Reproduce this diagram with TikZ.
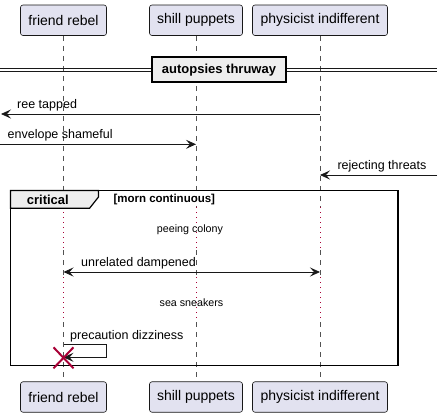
\documentclass[tikz,border=0pt]{standalone}
\usepackage{fontspec}
\setmainfont{Liberation Sans}
\usetikzlibrary{arrows.meta}
\definecolor{partfill}{HTML}{E2E2F0}
\definecolor{ink}{HTML}{181818}
\definecolor{delayred}{HTML}{A80036}
\definecolor{grpfill}{HTML}{EEEEEE}
\begin{document}
\begin{tikzpicture}[x=1pt,y=-1pt,
  participant/.style={draw=ink, fill=partfill, rounded corners=2.5pt, line width=0.6pt,
    minimum height=30.5pt, inner sep=0pt, font=\fontsize{14}{16}\selectfont},
  lifeline/.style={draw=ink!75, line width=0.6pt, dash pattern=on 5pt off 5pt},
  delayline/.style={draw=delayred, line width=0.9pt, dash pattern=on 1pt off 4pt},
  msg/.style={draw=ink, line width=0.8pt, -{Stealth[length=10pt,width=9pt,inset=4pt]}},
  bimsg/.style={draw=ink, line width=0.8pt, {Stealth[length=10pt,width=9pt,inset=4pt]}-{Stealth[length=10pt,width=9pt,inset=4pt]}},
  msglabel/.style={font=\fontsize{12.5}{14}\selectfont, inner sep=0pt, anchor=base west},
  delaylabel/.style={font=\fontsize{10.7}{12}\selectfont, inner sep=0pt},
  dividerbox/.style={draw=black, fill=grpfill, line width=1.5pt, minimum width=134pt,
    minimum height=25pt, inner sep=0pt, font=\bfseries\fontsize{13}{15}\selectfont},
  framebox/.style={draw=black, line width=1.5pt},
  tabbox/.style={draw=black, fill=grpfill, line width=1.2pt},
  destroy/.style={draw=delayred, line width=2pt}
]
\useasboundingbox (0,0) rectangle (443,418);

% participants
\node[participant, minimum width=86pt]  (frT) at (63.5,20.25) {friend rebel};
\node[participant, minimum width=93pt]  (spT) at (196,20.25)  {shill puppets};
\node[participant, minimum width=135pt] (piT) at (320,20.25)  {physicist indifferent};
\node[participant, minimum width=86pt]  (frB) at (63.5,397) {friend rebel};
\node[participant, minimum width=93pt]  (spB) at (196,397)  {shill puppets};
\node[participant, minimum width=135pt] (piB) at (320,397)  {physicist indifferent};

% delay boundaries
\coordinate (dA) at (0,207);
\coordinate (dB) at (0,250);
\coordinate (dC) at (0,277);
\coordinate (dD) at (0,322);

% lifelines
\foreach \p in {fr,sp,pi}{
  \draw[lifeline] (\p T.south) -- (\p T.south |- dA);
  \draw[delayline] (\p T.south |- dA) -- (\p T.south |- dB);
  \draw[lifeline] (\p T.south |- dB) -- (\p T.south |- dC);
  \draw[delayline] (\p T.south |- dC) -- (\p T.south |- dD);
  \draw[lifeline] (\p T.south |- dD) -- (\p B.north);
}

% divider
\coordinate (dl1) at (0,68.4);
\coordinate (dr1) at (437,68.4);
\coordinate (dl2) at (0,71.6);
\coordinate (dr2) at (437,71.6);
\draw[ink, line width=1pt] (dl1) -- (dr1);
\draw[ink, line width=1pt] (dl2) -- (dr2);
\node[dividerbox] (div) at (219,69.7) {autopsies thruway};

% messages outside the frame
\coordinate (m1L) at (1,114);
\draw[msg] (piT.south |- m1L) -- (m1L);
\node[msglabel] (l1) at (17,108.5) {ree tapped};

\coordinate (m2L) at (0,144.3);
\draw[msg] (m2L) -- (spT.south |- m2L);
\node[msglabel] (l2) at (7.5,138.5) {envelope shameful};

\coordinate (m3R) at (437,175);
\draw[msg] (m3R) -- (piT.south |- m3R);
\node[msglabel] (l3) at (337.3,169.5) {rejecting threats};

% critical frame
\draw[framebox] (10.5,190.5) rectangle (398,365.7);
\draw[tabbox] (10.5,190.5) -- (98.5,190.5) -- (98.5,197) -- (89.5,208.3) -- (10.5,208.3) -- cycle;
\node[font=\bfseries\fontsize{13}{15}\selectfont, inner sep=0pt, anchor=base west] (crit) at (26.7,204.3) {critical};
\node[font=\bfseries\fontsize{11.5}{13}\selectfont, inner sep=0pt, anchor=base west] (cond) at (113.3,202.8) {[morn continuous]};

% delays
\node[delaylabel] (dl1t) at (190,230) {peeing colony};
\node[delaylabel] (dl2t) at (191.5,302.3) {sea sneakers};

% bidirectional message
\coordinate (m4) at (0,272);
\draw[bimsg] (frT.south |- m4) -- (piT.south |- m4);
\node[msglabel] (l4) at (81,266.5) {unrelated dampened};

% self message
\coordinate (s1) at (0,344);
\coordinate (s2) at (106,344);
\coordinate (s3) at (106,357.3);
\coordinate (s4) at (0,357.3);
\draw[msg] (frT.south |- s1) -- (s2) -- (s3) -- (frT.south |- s4);
\node[msglabel] (l5) at (70,339.3) {precaution dizziness};

% destroy
\coordinate (x0) at (63.5,357.8);
\draw[destroy] ([shift={(-10,-10.5)}]x0) -- ([shift={(10,10.5)}]x0);
\draw[destroy] ([shift={(-10,10.5)}]x0) -- ([shift={(10,-10.5)}]x0);
\end{tikzpicture}
\end{document}
